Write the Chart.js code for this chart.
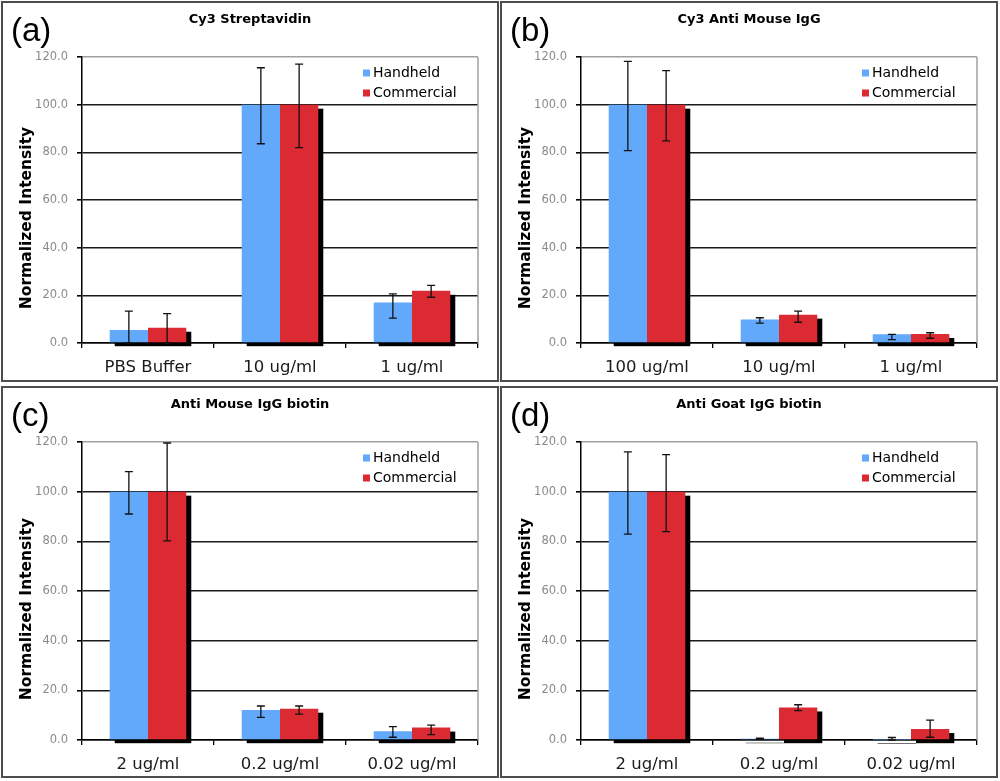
<!DOCTYPE html>
<html><head><meta charset="utf-8">
<script src="https://cdn.jsdelivr.net/npm/chart.js@4"></script>
<style>
body{margin:0;background:#fff;width:1000px;height:781px;position:relative;overflow:hidden}
.frame{position:absolute;box-sizing:border-box;border:2px solid #4d4d4d}
canvas{position:absolute}
</style></head><body>
<div class="frame" style="left:1px;top:1px;width:498px;height:381px"></div>
<div class="frame" style="left:500px;top:1px;width:498px;height:381px"></div>
<div class="frame" style="left:1px;top:386px;width:498px;height:392px"></div>
<div class="frame" style="left:500px;top:386px;width:498px;height:392px"></div>
<canvas id="ca" width="494" height="377" style="left:3px;top:3px"></canvas>
<canvas id="cb" width="494" height="377" style="left:502px;top:3px"></canvas>
<canvas id="cc" width="494" height="389" style="left:3px;top:388px"></canvas>
<canvas id="cd" width="494" height="389" style="left:502px;top:388px"></canvas>
<script>
// ---- data ----
const seriesNames = ['Handheld', 'Commercial'];
const seriesColors = ['#62a8fb', '#dc2a33'];
const panelLetters = ['(a)', '(b)', '(c)', '(d)'];
const panelTitles = ['Cy3 Streptavidin', 'Cy3 Anti Mouse IgG', 'Anti Mouse IgG biotin', 'Anti Goat IgG biotin'];
const yAxisTitle = 'Normalized Intensity';
const yTicks = [0, 20, 40, 60, 80, 100, 120];

const categoriesA = ['PBS Buffer', '10 ug/ml', '1 ug/ml'];
const handheldA = [5.5, 100, 17.0];
const handheldLowA = [0, 83.6, 10.4];
const handheldHighA = [13.4, 115.5, 20.6];
const commercialA = [6.4, 100, 21.9];
const commercialLowA = [0, 82.0, 19.2];
const commercialHighA = [12.3, 117.0, 24.2];

const categoriesB = ['100 ug/ml', '10 ug/ml', '1 ug/ml'];
const handheldB = [100, 9.9, 3.7];
const handheldLowB = [80.7, 8.3, 1.4];
const handheldHighB = [118.2, 10.6, 3.6];
const commercialB = [100, 11.9, 3.8];
const commercialLowB = [84.8, 8.7, 2.0];
const commercialHighB = [114.3, 13.4, 4.3];

const categoriesC = ['2 ug/ml', '0.2 ug/ml', '0.02 ug/ml'];
const handheldC = [100, 12.1, 3.5];
const handheldLowC = [91.0, 9.1, 1.1];
const handheldHighC = [108.1, 13.7, 5.4];
const commercialC = [100, 12.6, 5.0];
const commercialLowC = [80.2, 10.4, 2.2];
const commercialHighC = [119.6, 13.7, 6.0];

const categoriesD = ['2 ug/ml', '0.2 ug/ml', '0.02 ug/ml'];
const handheldD = [100, 0.5, 0.1];
const handheldLowD = [82.9, 0.3, 0];
const handheldHighD = [116.0, 0.7, 1.0];
const commercialD = [100, 13.1, 4.4];
const commercialLowD = [83.9, 11.8, 1.1];
const commercialHighD = [114.9, 14.2, 8.0];

const FONT = '"DejaVu Sans", Verdana, sans-serif';

// ---- plugins ----
const shadowPlugin = {
  id: 'barShadow',
  beforeDatasetsDraw(chart) {
    const ctx = chart.ctx;
    const ca = chart.chartArea;
    ctx.save();
    ctx.strokeStyle = '#a0a0a0';
    ctx.lineWidth = 1.5;
    ctx.beginPath();
    ctx.moveTo(ca.right, ca.top);
    ctx.lineTo(ca.right, ca.bottom);
    ctx.stroke();
    ctx.fillStyle = '#000';
    chart.data.datasets.forEach((ds, di) => {
      chart.getDatasetMeta(di).data.forEach(el => {
        const p = el.getProps(['x', 'y', 'base', 'width'], true);
        ctx.fillRect(p.x - p.width / 2 + 5, p.y + 4, p.width, p.base - p.y);
      });
    });
    ctx.restore();
  }
};

const errorPlugin = {
  id: 'errorBars',
  afterDatasetsDraw(chart) {
    const ctx = chart.ctx;
    const ys = chart.scales.y;
    ctx.save();
    ctx.strokeStyle = '#111';
    ctx.lineWidth = 1.3;
    chart.data.datasets.forEach((ds, di) => {
      chart.getDatasetMeta(di).data.forEach((el, i) => {
        const x = el.getProps(['x'], true).x;
        const yh = ys.getPixelForValue(ds.errHigh[i]);
        const yl = ys.getPixelForValue(ds.errLow[i]);
        ctx.beginPath();
        ctx.moveTo(x, yh); ctx.lineTo(x, yl);
        ctx.moveTo(x - 4, yh); ctx.lineTo(x + 4, yh);
        ctx.moveTo(x - 4, yl); ctx.lineTo(x + 4, yl);
        ctx.stroke();
      });
    });
    ctx.restore();
  }
};

const textPlugin = {
  id: 'panelText',
  afterDraw(chart) {
    const ctx = chart.ctx;
    const ca = chart.chartArea;
    const o = chart.options.plugins.panelText;
    ctx.save();
    ctx.fillStyle = '#000';
    ctx.textBaseline = 'middle';
    ctx.font = '33px "Liberation Sans", Arial, sans-serif';
    ctx.textAlign = 'left';
    ctx.fillText(o.letter, 8, 29);
    ctx.font = 'bold 13px ' + FONT;
    ctx.textAlign = 'center';
    ctx.fillText(o.title, chart.width / 2, 17);
    // y-axis title
    ctx.save();
    ctx.translate(24, (ca.top + ca.bottom) / 2 + 18);
    ctx.rotate(-Math.PI / 2);
    ctx.font = 'bold 15.5px ' + FONT;
    ctx.fillText(yAxisTitle, 0, 0);
    ctx.restore();
    // legend
    ctx.font = '14px ' + FONT;
    ctx.textAlign = 'left';
    chart.data.datasets.forEach((ds, i) => {
      const lx = ca.right - 115;
      const ly = ca.top + 16 + i * 20;
      ctx.fillStyle = ds.backgroundColor;
      ctx.fillRect(lx, ly - 3.5, 7, 7);
      ctx.fillStyle = '#000';
      ctx.fillText(ds.label, lx + 10, ly);
    });
    ctx.restore();
  }
};

function makeChart(id, idx, cats, h, hl, hh, c, cl, ch) {
  new Chart(document.getElementById(id), {
    type: 'bar',
    data: {
      labels: cats,
      datasets: [
        { label: seriesNames[0], data: h, errLow: hl, errHigh: hh, backgroundColor: seriesColors[0], clip: false },
        { label: seriesNames[1], data: c, errLow: cl, errHigh: ch, backgroundColor: seriesColors[1], clip: false }
      ]
    },
    options: {
      responsive: false,
      animation: false,
      events: [],
      layout: { padding: { top: 54, left: 14, right: 19, bottom: 5 } },
      datasets: { bar: { categoryPercentage: 0.58, barPercentage: 1.0 } },
      plugins: {
        legend: { display: false },
        tooltip: { enabled: false },
        title: { display: false },
        panelText: { letter: panelLetters[idx], title: panelTitles[idx] }
      },
      scales: {
        x: {
          afterFit(s) { s.height = 32; },
          grid: { display: true, drawOnChartArea: false, drawTicks: true, tickLength: 5, offset: true, color: '#000', lineWidth: 1.3 },
          border: { display: true, color: '#000', width: 1.5 },
          ticks: { font: { family: FONT, size: 16.5 }, color: '#1a1a1a', padding: 10, maxRotation: 0, autoSkip: false }
        },
        y: {
          min: 0, max: 120,
          afterFit(s) { s.width = 65; },
          afterBuildTicks(s) { s.ticks = yTicks.map(v => ({ value: v })); },
          grid: {
            color: ctx => (ctx.tick && ctx.tick.value === 120) ? '#a0a0a0' : '#1a1a1a',
            tickColor: '#000', lineWidth: 1.6, tickLength: 5
          },
          border: { display: true, color: '#000', width: 1.5 },
          ticks: {
            font: { family: FONT, size: 11.5 }, color: '#8a8a8a', padding: 9,
            callback: v => Number(v).toFixed(1)
          },
          title: { display: false }
        }
      }
    },
    plugins: [shadowPlugin, errorPlugin, textPlugin]
  });
}

makeChart('ca', 0, categoriesA, handheldA, handheldLowA, handheldHighA, commercialA, commercialLowA, commercialHighA);
makeChart('cb', 1, categoriesB, handheldB, handheldLowB, handheldHighB, commercialB, commercialLowB, commercialHighB);
makeChart('cc', 2, categoriesC, handheldC, handheldLowC, handheldHighC, commercialC, commercialLowC, commercialHighC);
makeChart('cd', 3, categoriesD, handheldD, handheldLowD, handheldHighD, commercialD, commercialLowD, commercialHighD);
</script>
</body></html>
